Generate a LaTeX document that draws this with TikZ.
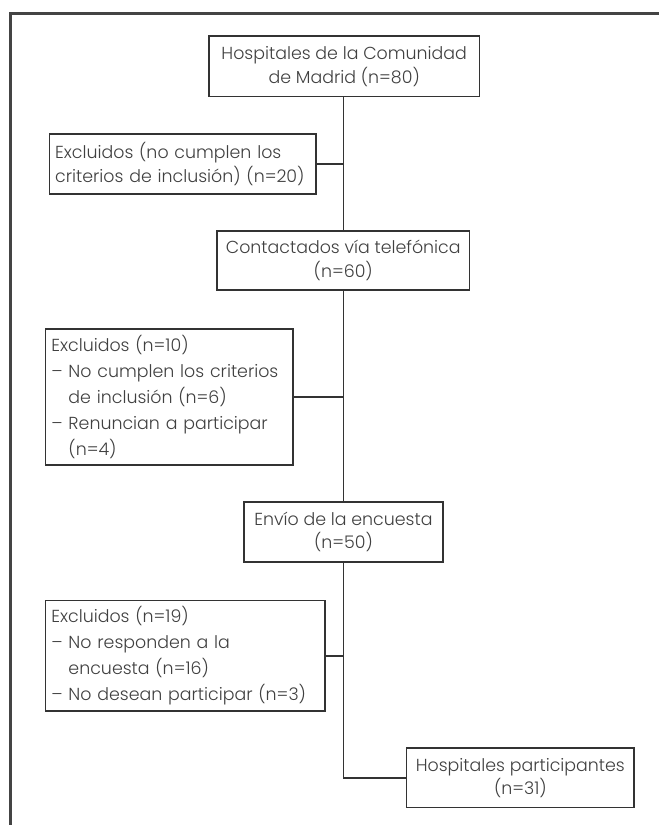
\documentclass[tikz,border=0pt]{standalone}
\usepackage{fontspec}
\setmainfont{Poppins}[UprightFont=* Light]
\newcommand\hind{\phantom{–\ }}
\newcommand\oneline[1]{\mbox{#1}}
\definecolor{txt}{HTML}{404040}
\definecolor{edge}{HTML}{333333}
\definecolor{framec}{HTML}{444444}
\tikzset{
  box/.style={draw=edge, line width=1.4pt, fill=white, text=txt, inner xsep=7pt, inner ysep=0pt},
  cbox/.style={box, align=center, font={\fontsize{17.4}{23.5}\selectfont}},
  lbox/.style={box, align=left, inner xsep=6pt, font={\fontsize{17.4}{26}\selectfont}},
  link/.style={draw=edge, line width=1.4pt},
  framel/.style={draw=framec, line width=2.4pt}
}
\begin{document}
\begin{tikzpicture}[x=1pt,y=-1pt]
\useasboundingbox (0,0) rectangle (659,825);
\coordinate (sp) at (343.7,0);
\coordinate (fb) at (10.5,825);
\coordinate (fc) at (10.5,13.3);
\coordinate (fr) at (659,13.3);
\draw[framel] (fb) -- (fc) -- (fr);

\node[cbox, minimum width=270.4pt, minimum height=60.7pt] (b1) at (344.2,66.35)
  {Hospitales de la Comunidad\\de Madrid (n=80)};
\node[lbox, text width=254.8pt, minimum height=60pt, font={\fontsize{17.4}{24}\selectfont}] (b2) at (182.6,164)
  {\oneline{Excluidos (no cumplen los}\\\oneline{criterios de inclusión) (n=20)}};
\node[cbox, minimum width=252.9pt, minimum height=59pt] (b3) at (343.25,260.5)
  {Contactados vía telefónica\\(n=60)};
\node[lbox, text width=235.5pt, minimum height=136pt] (b4) at (169.15,397)
  {\oneline{Excluidos (n=10)}\\\oneline{– No cumplen los criterios}\\\oneline{\hind de inclusión (n=6)}\\\oneline{– Renuncian a participar}\\\oneline{\hind(n=4)}};
\node[cbox, minimum width=198.9pt, minimum height=60pt] (b5) at (343.45,532)
  {Envío de la encuesta\\(n=50)};
\node[lbox, text width=267.4pt, minimum height=110.3pt] (b6) at (185.1,655.85)
  {\oneline{Excluidos (n=19)}\\\oneline{– No responden a la}\\\oneline{\hind encuesta (n=16)}\\\oneline{– No desean participar (n=3)}};
\node[cbox, minimum width=227.3pt, minimum height=59.7pt] (b7) at (520.35,777.85)
  {Hospitales participantes\\(n=31)};

\draw[link] (b1.south -| sp) -- (b3.north -| sp);
\draw[link] (b3.south -| sp) -- (b5.north -| sp);
\draw[link] (b5.south -| sp) |- (b7.west);
\draw[link] (b2.east) -- (b2.east -| sp);
\draw[link] (b4.east) -- (b4.east -| sp);
\draw[link] (b6.east) -- (b6.east -| sp);
\end{tikzpicture}
\end{document}
